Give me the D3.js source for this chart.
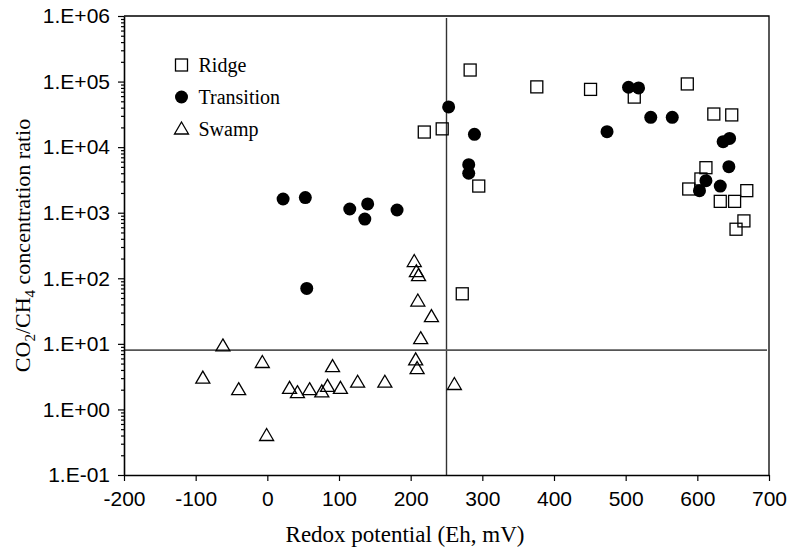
<!DOCTYPE html>
<html>
<head>
<meta charset="utf-8">
<script src="https://cdn.jsdelivr.net/npm/d3@7"></script>
<style>
  body { margin: 0; background: #fff; }
  svg { display: block; }
</style>
</head>
<body>
<div id="chart"></div>
<script>
// chart size
let width_svg = 789;
let height_svg = 548;

let margin = { top: 16, right: 20, left: 124, bottom: 73 };
let width = width_svg - margin.left - margin.right;
let height = height_svg - margin.top - margin.bottom;

//==========================================================
// data (Eh in mV, CO2/CH4 ratio)
let ridge_eh    = [283, 376, 451, 512, 586, 623, 648, 219, 244, 295, 612, 605, 588, 632, 652, 669, 665, 654, 272];
let ridge_ratio = [1.5e5, 8.3e4, 7.6e4, 5.8e4, 9.2e4, 3.2e4, 3.1e4, 1.7e4, 1.9e4, 2550, 4860, 3270, 2300, 1490, 1490, 2170, 750, 560, 58];

let trans_eh    = [22, 53, 115, 140, 136, 181, 55, 253, 289, 281, 281, 504, 518, 474, 535, 565, 636, 645, 644, 612, 603, 632];
let trans_ratio = [1620, 1700, 1140, 1360, 800, 1100, 70, 4.1e4, 1.57e4, 5400, 4000, 8.2e4, 8.0e4, 1.72e4, 2.85e4, 2.85e4, 1.21e4, 1.36e4, 5030, 3080, 2170, 2550];

let swamp_eh    = [-90, -62, -40, -7, -1, 31, 42, 59, 76, 84, 91, 102, 126, 164, 205, 208, 211, 210, 229, 214, 207, 209, 261];
let swamp_ratio = [3.0, 9.3, 2.0, 5.2, 0.4, 2.1, 1.8, 2.0, 1.85, 2.25, 4.5, 2.1, 2.6, 2.6, 180, 126, 110, 45, 26, 12, 5.7, 4.2, 2.4];

// threshold lines
let eh_line = 250;
let ratio_line = 8;

// axis ticks
let x_ticks = [-200, -100, 0, 100, 200, 300, 400, 500, 600, 700];
let y_ticks = [1e-1, 1e0, 1e1, 1e2, 1e3, 1e4, 1e5, 1e6];

let legend_names = ["Ridge", "Transition", "Swamp"];

//==========================================================
let svg = d3.select("#chart").append("svg")
    .attr("width", width_svg)
    .attr("height", height_svg);

let chart = svg.append("g")
    .attr("transform", `translate(${margin.left}, ${margin.top})`);

let x_scale = d3.scaleLinear().domain([-200, 700]).range([0, width]);
let y_scale = d3.scaleLog().domain([1e-1, 1e6]).range([height, 0]);

function sci_label(v) {
    let p = Math.round(Math.log10(v));
    return "1.E" + (p < 0 ? "-" : "+") + String(Math.abs(p)).padStart(2, "0");
}

// minor log ticks
let y_minor = [];
y_ticks.slice(0, -1).forEach(t => {
    for (let k = 2; k <= 9; k++) y_minor.push(t * k);
});

//==========================================================
// frame (top and right)
chart.append("path")
    .attr("d", `M0,0H${width}V${height}`)
    .attr("fill", "none")
    .attr("stroke", "#000")
    .attr("stroke-width", 1.3);

// threshold lines
chart.append("line")
    .attr("x1", x_scale(eh_line)).attr("x2", x_scale(eh_line))
    .attr("y1", 2).attr("y2", height)
    .attr("stroke", "#333").attr("stroke-width", 1.4);

chart.append("line")
    .attr("x1", 0).attr("x2", width - 2)
    .attr("y1", y_scale(ratio_line)).attr("y2", y_scale(ratio_line))
    .attr("stroke", "#555").attr("stroke-width", 1.8);

// axes
let y_minor_axis = chart.append("g")
    .call(d3.axisLeft(y_scale).tickValues(y_minor).tickSize(3).tickFormat(""));
y_minor_axis.select(".domain").remove();

let y_axis = chart.append("g")
    .call(d3.axisLeft(y_scale).tickValues(y_ticks).tickSize(6).tickSizeOuter(0).tickPadding(8).tickFormat(sci_label));

let x_axis = chart.append("g")
    .attr("transform", `translate(0, ${height})`)
    .call(d3.axisBottom(x_scale).tickValues(x_ticks).tickSize(6).tickSizeOuter(0).tickPadding(10)
        .tickFormat(d => String(d)));

[y_axis, x_axis].forEach(a => {
    a.selectAll("text")
        .attr("font-family", "'Liberation Sans', Arial, sans-serif")
        .attr("font-size", 21)
        .attr("fill", "#000");
    a.attr("font-family", null).attr("font-size", null);
    a.select(".domain").attr("stroke-width", 1.6);
});
chart.selectAll(".tick line").attr("stroke-width", 1.2);

//==========================================================
// marker shapes
function draw_square(g, cx, cy) {
    g.append("rect")
        .attr("x", cx - 6).attr("y", cy - 6)
        .attr("width", 12).attr("height", 12)
        .attr("fill", "none").attr("stroke", "#000").attr("stroke-width", 1.3);
}
function draw_circle(g, cx, cy) {
    g.append("circle")
        .attr("cx", cx).attr("cy", cy).attr("r", 6.5)
        .attr("fill", "#000");
}
function draw_triangle(g, cx, cy) {
    g.append("path")
        .attr("d", `M${cx},${cy - 7}L${cx + 7},${cy + 5}L${cx - 7},${cy + 5}Z`)
        .attr("fill", "none").attr("stroke", "#000").attr("stroke-width", 1.3);
}

let points = chart.append("g");
ridge_eh.forEach((e, i) => draw_square(points, x_scale(e), y_scale(ridge_ratio[i])));
trans_eh.forEach((e, i) => draw_circle(points, x_scale(e), y_scale(trans_ratio[i])));
swamp_eh.forEach((e, i) => draw_triangle(points, x_scale(e), y_scale(swamp_ratio[i])));

//==========================================================
// legend
let legend = svg.append("g").attr("transform", "translate(181.5, 65)");
let legend_draw = [draw_square, draw_circle, draw_triangle];
legend_names.forEach((name, i) => {
    legend_draw[i](legend, 0, i * 32);
    legend.append("text")
        .attr("x", 17).attr("y", i * 32 + 7)
        .attr("font-family", "'Liberation Serif', 'Times New Roman', serif")
        .attr("font-size", 20)
        .text(name);
});

// axis titles
svg.append("text")
    .attr("x", 405).attr("y", 542)
    .attr("text-anchor", "middle")
    .attr("font-family", "'Liberation Serif', 'Times New Roman', serif")
    .attr("font-size", 23)
    .text("Redox potential (Eh, mV)");

let y_title = svg.append("text")
    .attr("transform", `translate(30, ${margin.top + height / 2}) rotate(-90)`)
    .attr("text-anchor", "middle")
    .attr("font-family", "'Liberation Serif', 'Times New Roman', serif")
    .attr("font-size", 22);
y_title.append("tspan").text("CO");
y_title.append("tspan").attr("font-size", 15).attr("dy", 5).text("2");
y_title.append("tspan").attr("dy", -5).text("/CH");
y_title.append("tspan").attr("font-size", 15).attr("dy", 5).text("4");
y_title.append("tspan").attr("dy", -5).text(" concentration ratio");
</script>
</body>
</html>
